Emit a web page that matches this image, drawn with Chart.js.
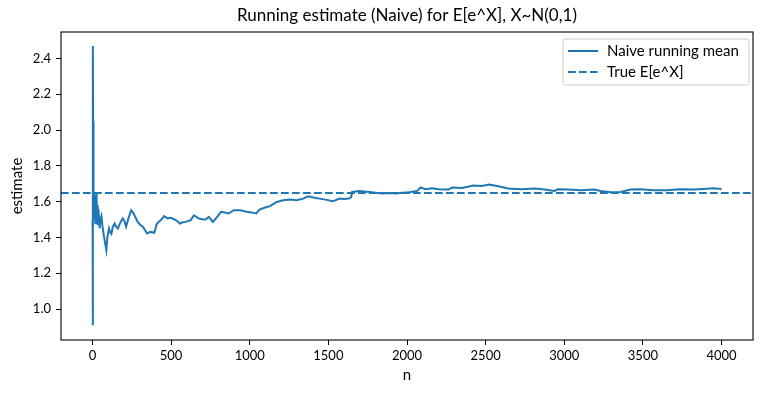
<!DOCTYPE html>
<html>
<head>
<meta charset="utf-8">
<script src="https://cdn.jsdelivr.net/npm/chart.js@4.4.1/dist/chart.umd.min.js"></script>
<style>
  html, body { margin: 0; padding: 0; background: #fff; }
  #wrap { width: 765px; height: 393px; }
</style>
</head>
<body>
<div id="wrap"><canvas id="line-chart" width="765" height="393"></canvas></div>
<script>
// sample counts and running mean
var nVals = [1,2,3,4,5,6,7,8,10,12,14,16,18,20,23,26,29,32,35,38,42,46,50,57,64,71,80,88,95,105,112,120,130,141,150,162,175,193,204,214,230,246,257,267,288,305,320,335,347,368,393,410,435,456,477,495,509,530,557,575,593,625,645,677,700,719,740,766,789,818,840,866,898,940,982,1010,1041,1062,1098,1129,1171,1213,1256,1298,1340,1371,1392,1420,1445,1490,1529,1571,1600,1630,1645,1651,1697,1760,1800,1844,1890,1929,1970,2013,2065,2086,2118,2160,2202,2265,2286,2349,2423,2475,2522,2580,2644,2728,2812,2875,2938,2959,3022,3106,3190,3232,3295,3358,3421,3484,3569,3653,3737,3821,3884,3947,4000];
var estVals = [1.50,0.91,2.47,2.05,1.85,1.70,1.58,1.66,1.52,1.64,1.50,1.62,1.48,1.60,1.55,1.65,1.52,1.58,1.47,1.56,1.49,1.45,1.50,1.52,1.46,1.42,1.37,1.33,1.40,1.45,1.43,1.42,1.46,1.478,1.46,1.45,1.48,1.506,1.49,1.46,1.51,1.552,1.54,1.524,1.487,1.47,1.46,1.44,1.422,1.431,1.426,1.478,1.497,1.519,1.506,1.51,1.506,1.497,1.478,1.485,1.487,1.497,1.524,1.506,1.502,1.50,1.515,1.487,1.511,1.543,1.54,1.534,1.552,1.552,1.543,1.54,1.534,1.556,1.567,1.575,1.598,1.608,1.612,1.608,1.617,1.630,1.626,1.62,1.617,1.61,1.602,1.617,1.615,1.617,1.625,1.654,1.66,1.654,1.65,1.645,1.648,1.645,1.65,1.653,1.66,1.679,1.669,1.675,1.669,1.668,1.679,1.677,1.69,1.688,1.696,1.686,1.673,1.669,1.673,1.668,1.66,1.669,1.668,1.664,1.668,1.66,1.653,1.654,1.668,1.669,1.664,1.664,1.669,1.668,1.671,1.675,1.671];
var trueValue = 1.6487;            // e^0.5
var xLimits = [-200, 4200];
var yLimits = [0.827, 2.548];
var xTicks = [0,500,1000,1500,2000,2500,3000,3500,4000];
var yTicks = [1.0,1.2,1.4,1.6,1.8,2.0,2.2,2.4];

var blue = '#1f77b4';
var fontFam = 'Lato, "DejaVu Sans", sans-serif';

var runData = nVals.map(function(n, i){ return {x: n, y: estVals[i]}; });
var trueData = xLimits.map(function(x){ return {x: x, y: trueValue}; });

// box round the axes plus a matplotlib style legend
var framePlugin = {
  id: 'frame',
  afterDraw: function(chart) {
    var ctx = chart.ctx, a = chart.chartArea;
    ctx.save();
    ctx.strokeStyle = '#000';
    ctx.lineWidth = 1.1;
    ctx.strokeRect(a.left, a.top, a.right - a.left, a.bottom - a.top);

    // legend
    var bx = 563, by = 39, bw = 186, bh = 46, r = 3;
    ctx.fillStyle = 'rgba(255,255,255,0.8)';
    ctx.strokeStyle = '#cccccc';
    ctx.lineWidth = 1;
    ctx.beginPath();
    ctx.moveTo(bx + r, by);
    ctx.arcTo(bx + bw, by, bx + bw, by + bh, r);
    ctx.arcTo(bx + bw, by + bh, bx, by + bh, r);
    ctx.arcTo(bx, by + bh, bx, by, r);
    ctx.arcTo(bx, by, bx + bw, by, r);
    ctx.closePath();
    ctx.fill();
    ctx.stroke();

    var items = [
      {label: chart.data.datasets[0].label, dash: []},
      {label: chart.data.datasets[1].label, dash: [7.7, 3.3]}
    ];
    ctx.font = '15px ' + fontFam;
    ctx.textBaseline = 'middle';
    ctx.textAlign = 'left';
    items.forEach(function(it, i) {
      var yy = by + 12 + i * 21;
      ctx.strokeStyle = blue;
      ctx.lineWidth = 2;
      ctx.setLineDash(it.dash);
      ctx.beginPath();
      ctx.moveTo(568, yy);
      ctx.lineTo(598, yy);
      ctx.stroke();
      ctx.setLineDash([]);
      ctx.fillStyle = '#000';
      ctx.fillText(it.label, 607, yy);
    });
    ctx.restore();
  }
};

new Chart(document.getElementById('line-chart'), {
  type: 'line',
  data: {
    datasets: [{
      label: 'Naive running mean',
      data: runData,
      borderColor: blue,
      borderWidth: 2,
      pointRadius: 0,
      tension: 0,
      fill: false
    }, {
      label: 'True E[e^X]',
      data: trueData,
      borderColor: blue,
      borderWidth: 2,
      borderDash: [7.7, 3.3],
      pointRadius: 0,
      fill: false
    }]
  },
  options: {
    responsive: false,
    animation: false,
    events: [],
    layout: { padding: { left: 0, right: 12, top: 0, bottom: 0 } },
    plugins: {
      legend: { display: false },
      tooltip: { enabled: false },
      title: {
        display: true,
        fullSize: false,
        text: 'Running estimate (Naive) for E[e^X], X~N(0,1)',
        color: '#000',
        font: { family: fontFam, size: 17, weight: 'normal' },
        padding: { top: 5, bottom: 6.6 }
      }
    },
    scales: {
      x: {
        type: 'linear',
        min: xLimits[0],
        max: xLimits[1],
        afterBuildTicks: function(s){ s.ticks = xTicks.map(function(v){ return {value: v}; }); },
        afterFit: function(s){ s.height = 53; },
        grid: { drawOnChartArea: false, drawTicks: true, tickLength: 5, tickColor: '#000', tickWidth: 1 },
        border: { display: false },
        ticks: {
          color: '#000', padding: 3, maxRotation: 0,
          font: { family: fontFam, size: 13 },
          callback: function(v){ return String(v); }
        },
        title: { display: true, text: 'n', color: '#000', font: { family: fontFam, size: 15 }, padding: { top: 0, bottom: 9 } }
      },
      y: {
        type: 'linear',
        min: yLimits[0],
        max: yLimits[1],
        afterBuildTicks: function(s){ s.ticks = yTicks.map(function(v){ return {value: v}; }); },
        afterFit: function(s){ s.width = 61; },
        grid: { drawOnChartArea: false, drawTicks: true, tickLength: 5, tickColor: '#000', tickWidth: 1 },
        border: { display: false },
        ticks: {
          color: '#000', padding: 5,
          font: { family: fontFam, size: 13 },
          callback: function(v){ return Number(v).toFixed(1); }
        },
        title: { display: true, text: 'estimate', color: '#000', font: { family: fontFam, size: 15 }, padding: { top: 8, bottom: 0 } }
      }
    }
  },
  plugins: [framePlugin]
});
</script>
</body>
</html>
